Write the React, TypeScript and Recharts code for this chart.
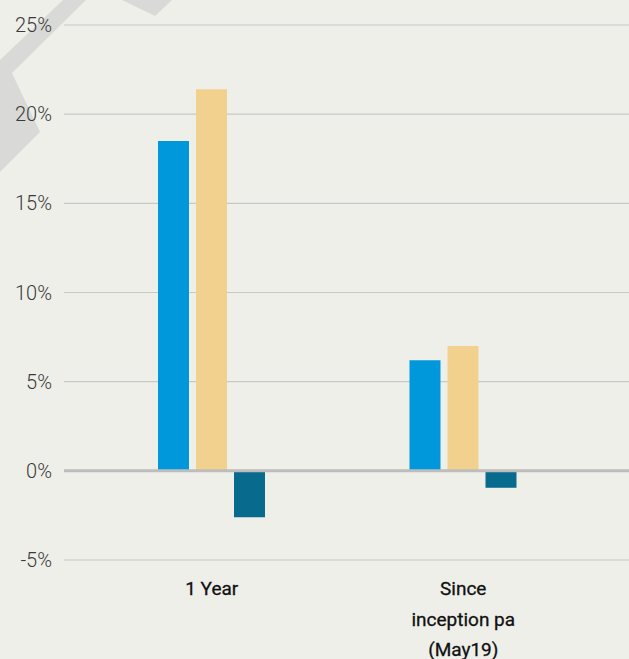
import { BarChart, Bar, XAxis, YAxis, CartesianGrid, ReferenceLine } from "recharts";

const categories = ["1 Year", "Since\ninception pa\n(May19)"];
const seriesA = [18.5, 6.2];
const seriesB = [21.4, 7.0];
const seriesC = [-2.6, -0.95];
const yTicks = [-5, 0, 5, 10, 15, 20, 25];

const data = categories.map((name, i) => ({
  name,
  a: seriesA[i],
  b: seriesB[i],
  c: seriesC[i],
}));

const CategoryTick = ({ x, y, payload }: any) => {
  const lines = String(payload.value).split("\n");
  return (
    <text x={x} y={y} textAnchor="middle" fill="#111" fontSize={19} fontWeight={400} fontFamily="Roboto, sans-serif" stroke="#111" strokeWidth={0.3}>
      {lines.map((l, i) => (
        <tspan key={i} x={x} dy={i === 0 ? 27 : 30.5}>{l}</tspan>
      ))}
    </text>
  );
};

export default function App() {
  return (
    <div style={{ position: "fixed", left: 0, top: 0, width: 629, height: 659, background: "#efefea", overflow: "hidden" }}>
      {/* decorative background shapes */}
      <svg width={629} height={659} style={{ position: "absolute", left: 0, top: 0 }}>
        <polygon points="63,0 86,0 12,73 40,132 0,172 0,60" fill="#d9dad7" />
        <polygon points="122,0 172,0 155,16" fill="#d9dad7" />
      </svg>
      <div style={{ position: "absolute", left: 0, top: 0 }}>
        <BarChart
          width={629}
          height={659}
          data={data}
          margin={{ top: 25, right: 0, left: 0, bottom: 0 }}
          barSize={31}
          barGap={7}
        >
          <CartesianGrid vertical={false} stroke="#c8c8c8" strokeWidth={1.2} />
          <XAxis
            dataKey="name"
            axisLine={false}
            tickLine={false}
            height={99}
            interval={0}
            padding={{ left: 22, right: 40 }}
            tick={<CategoryTick />}
          />
          <YAxis
            width={64}
            domain={[-5, 25]}
            ticks={yTicks}
            axisLine={false}
            tickLine={false}
            tickMargin={6}
            tickFormatter={(v) => `${v}%`}
            tick={{ fill: "#3a3a3a", fontSize: 20, fontWeight: 300, fontFamily: "Roboto, sans-serif" }}
          />
          <Bar dataKey="a" fill="#0098da" isAnimationActive={false} />
          <Bar dataKey="b" fill="#f2d18f" isAnimationActive={false} />
          <Bar dataKey="c" fill="#086a8d" isAnimationActive={false} />
          <ReferenceLine y={0} stroke="#bdbdbd" strokeWidth={3} />
        </BarChart>
      </div>
    </div>
  );
}
